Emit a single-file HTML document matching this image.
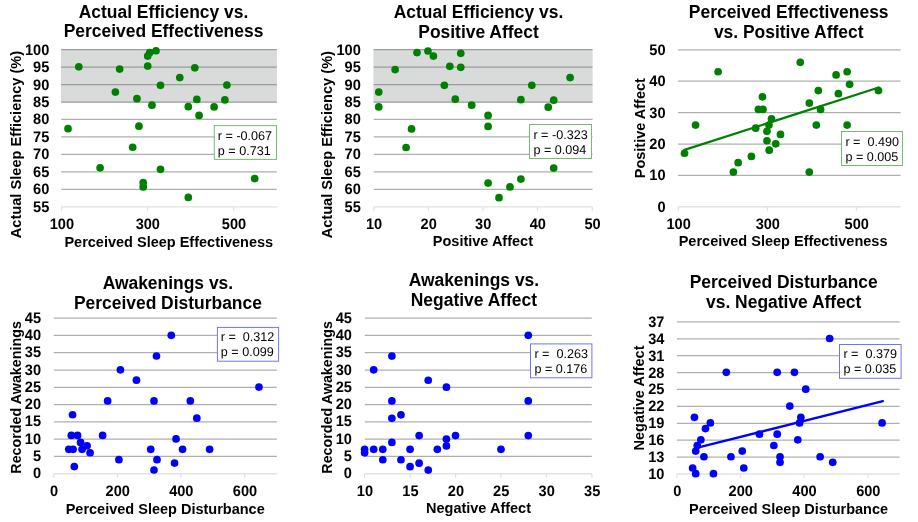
<!DOCTYPE html>
<html lang="en">
<head>
<meta charset="utf-8">
<title>Sleep measures vs. affect scatter plots</title>
<style>
html,body{margin:0;padding:0;background:#fff;}
body{width:918px;height:522px;overflow:hidden;}
svg{display:block;will-change:transform;}
svg text{font-family:'Liberation Sans', Arial, Helvetica, sans-serif;fill:#000;}
</style>
</head>
<body>
<svg width="918" height="522" viewBox="0 0 918 522">
<rect x="0" y="0" width="918" height="522" fill="#fff"/>
<rect x="60.90" y="49.10" width="216.00" height="53.60" fill="#d9dbda"/>
<line x1="61.20" x2="276.80" y1="49.60" y2="49.60" stroke="#525856" stroke-opacity="0.47" stroke-width="1.25"/>
<line x1="61.20" x2="276.80" y1="67.07" y2="67.07" stroke="#525856" stroke-opacity="0.47" stroke-width="1.25"/>
<line x1="61.20" x2="276.80" y1="84.54" y2="84.54" stroke="#525856" stroke-opacity="0.47" stroke-width="1.25"/>
<line x1="61.20" x2="276.80" y1="102.02" y2="102.02" stroke="#525856" stroke-opacity="0.47" stroke-width="1.25"/>
<line x1="61.20" x2="276.80" y1="119.49" y2="119.49" stroke="#525856" stroke-opacity="0.47" stroke-width="1.25"/>
<line x1="61.20" x2="276.80" y1="136.96" y2="136.96" stroke="#525856" stroke-opacity="0.47" stroke-width="1.25"/>
<line x1="61.20" x2="276.80" y1="154.43" y2="154.43" stroke="#525856" stroke-opacity="0.47" stroke-width="1.25"/>
<line x1="61.20" x2="276.80" y1="171.91" y2="171.91" stroke="#525856" stroke-opacity="0.47" stroke-width="1.25"/>
<line x1="61.20" x2="276.80" y1="189.38" y2="189.38" stroke="#525856" stroke-opacity="0.47" stroke-width="1.25"/>
<line x1="61.20" x2="276.80" y1="206.85" y2="206.85" stroke="#e2e2e2" stroke-width="1.4"/>
<line x1="61.60" x2="61.60" y1="206.85" y2="211.15" stroke="#e2e2e2" stroke-width="1.2"/>
<line x1="147.50" x2="147.50" y1="206.85" y2="211.15" stroke="#e2e2e2" stroke-width="1.2"/>
<line x1="233.70" x2="233.70" y1="206.85" y2="211.15" stroke="#e2e2e2" stroke-width="1.2"/>
<text transform="translate(49.30,54.60) scale(1,1.04)" text-anchor="end" font-size="14.6" font-weight="bold" text-rendering="geometricPrecision">100</text>
<text transform="translate(49.30,72.07) scale(1,1.04)" text-anchor="end" font-size="14.6" font-weight="bold" text-rendering="geometricPrecision">95</text>
<text transform="translate(49.30,89.54) scale(1,1.04)" text-anchor="end" font-size="14.6" font-weight="bold" text-rendering="geometricPrecision">90</text>
<text transform="translate(49.30,107.02) scale(1,1.04)" text-anchor="end" font-size="14.6" font-weight="bold" text-rendering="geometricPrecision">85</text>
<text transform="translate(49.30,124.49) scale(1,1.04)" text-anchor="end" font-size="14.6" font-weight="bold" text-rendering="geometricPrecision">80</text>
<text transform="translate(49.30,141.96) scale(1,1.04)" text-anchor="end" font-size="14.6" font-weight="bold" text-rendering="geometricPrecision">75</text>
<text transform="translate(49.30,159.43) scale(1,1.04)" text-anchor="end" font-size="14.6" font-weight="bold" text-rendering="geometricPrecision">70</text>
<text transform="translate(49.30,176.91) scale(1,1.04)" text-anchor="end" font-size="14.6" font-weight="bold" text-rendering="geometricPrecision">65</text>
<text transform="translate(49.30,194.38) scale(1,1.04)" text-anchor="end" font-size="14.6" font-weight="bold" text-rendering="geometricPrecision">60</text>
<text transform="translate(49.30,211.85) scale(1,1.04)" text-anchor="end" font-size="14.6" font-weight="bold" text-rendering="geometricPrecision">55</text>
<text transform="translate(61.90,229.00) scale(1,1.04)" text-anchor="middle" font-size="14.6" font-weight="bold" text-rendering="geometricPrecision">100</text>
<text transform="translate(147.80,229.00) scale(1,1.04)" text-anchor="middle" font-size="14.6" font-weight="bold" text-rendering="geometricPrecision">300</text>
<text transform="translate(234.00,229.00) scale(1,1.04)" text-anchor="middle" font-size="14.6" font-weight="bold" text-rendering="geometricPrecision">500</text>
<text x="168.80" y="247.00" text-anchor="middle" font-size="14.5" font-weight="bold">Perceived Sleep Effectiveness</text>
<text transform="translate(20.70,144.50) rotate(-90)" text-anchor="middle" font-size="14.6" font-weight="bold">Actual Sleep Efficiency (%)</text>
<text x="163.50" y="17.60" text-anchor="middle" font-size="17.45" font-weight="bold">Actual Efficiency vs.</text>
<text x="163.50" y="37.40" text-anchor="middle" font-size="17.45" font-weight="bold">Perceived Effectiveness</text>
<circle cx="78.80" cy="66.81" r="3.85" fill="#008000"/>
<circle cx="119.65" cy="69.07" r="3.85" fill="#008000"/>
<circle cx="147.71" cy="56.04" r="3.85" fill="#008000"/>
<circle cx="149.71" cy="52.53" r="3.85" fill="#008000"/>
<circle cx="155.98" cy="50.77" r="3.85" fill="#008000"/>
<circle cx="147.71" cy="66.06" r="3.85" fill="#008000"/>
<circle cx="194.81" cy="67.81" r="3.85" fill="#008000"/>
<circle cx="179.78" cy="77.58" r="3.85" fill="#008000"/>
<circle cx="160.49" cy="85.35" r="3.85" fill="#008000"/>
<circle cx="226.89" cy="85.10" r="3.85" fill="#008000"/>
<circle cx="115.39" cy="92.12" r="3.85" fill="#008000"/>
<circle cx="136.93" cy="98.63" r="3.85" fill="#008000"/>
<circle cx="151.97" cy="105.15" r="3.85" fill="#008000"/>
<circle cx="196.82" cy="99.38" r="3.85" fill="#008000"/>
<circle cx="224.88" cy="99.88" r="3.85" fill="#008000"/>
<circle cx="188.30" cy="106.65" r="3.85" fill="#008000"/>
<circle cx="214.11" cy="106.90" r="3.85" fill="#008000"/>
<circle cx="199.07" cy="115.42" r="3.85" fill="#008000"/>
<circle cx="68.03" cy="128.70" r="3.85" fill="#008000"/>
<circle cx="138.94" cy="126.19" r="3.85" fill="#008000"/>
<circle cx="132.67" cy="147.24" r="3.85" fill="#008000"/>
<circle cx="100.10" cy="167.84" r="3.85" fill="#008000"/>
<circle cx="160.49" cy="169.34" r="3.85" fill="#008000"/>
<circle cx="143.20" cy="182.62" r="3.85" fill="#008000"/>
<circle cx="143.20" cy="186.88" r="3.85" fill="#008000"/>
<circle cx="188.30" cy="197.40" r="3.85" fill="#008000"/>
<circle cx="254.70" cy="178.61" r="3.85" fill="#008000"/>
<rect x="214.30" y="125.60" width="62.20" height="33.80" fill="#fff" stroke="#74bc74" stroke-width="1"/>
<text x="217.85" y="139.65" font-size="12.6" fill="#303030" text-rendering="geometricPrecision" style="white-space:pre">r = -0.067</text>
<text x="217.85" y="154.50" font-size="12.6" fill="#303030" text-rendering="geometricPrecision" style="white-space:pre">p = 0.731</text>
<rect x="373.40" y="49.10" width="219.20" height="53.60" fill="#d9dbda"/>
<line x1="373.70" x2="592.50" y1="49.60" y2="49.60" stroke="#525856" stroke-opacity="0.47" stroke-width="1.25"/>
<line x1="373.70" x2="592.50" y1="67.07" y2="67.07" stroke="#525856" stroke-opacity="0.47" stroke-width="1.25"/>
<line x1="373.70" x2="592.50" y1="84.54" y2="84.54" stroke="#525856" stroke-opacity="0.47" stroke-width="1.25"/>
<line x1="373.70" x2="592.50" y1="102.02" y2="102.02" stroke="#525856" stroke-opacity="0.47" stroke-width="1.25"/>
<line x1="373.70" x2="592.50" y1="119.49" y2="119.49" stroke="#525856" stroke-opacity="0.47" stroke-width="1.25"/>
<line x1="373.70" x2="592.50" y1="136.96" y2="136.96" stroke="#525856" stroke-opacity="0.47" stroke-width="1.25"/>
<line x1="373.70" x2="592.50" y1="154.43" y2="154.43" stroke="#525856" stroke-opacity="0.47" stroke-width="1.25"/>
<line x1="373.70" x2="592.50" y1="171.91" y2="171.91" stroke="#525856" stroke-opacity="0.47" stroke-width="1.25"/>
<line x1="373.70" x2="592.50" y1="189.38" y2="189.38" stroke="#525856" stroke-opacity="0.47" stroke-width="1.25"/>
<line x1="373.70" x2="592.50" y1="206.85" y2="206.85" stroke="#e2e2e2" stroke-width="1.4"/>
<line x1="373.80" x2="373.80" y1="206.85" y2="211.15" stroke="#e2e2e2" stroke-width="1.2"/>
<line x1="428.40" x2="428.40" y1="206.85" y2="211.15" stroke="#e2e2e2" stroke-width="1.2"/>
<line x1="482.90" x2="482.90" y1="206.85" y2="211.15" stroke="#e2e2e2" stroke-width="1.2"/>
<line x1="537.50" x2="537.50" y1="206.85" y2="211.15" stroke="#e2e2e2" stroke-width="1.2"/>
<line x1="592.30" x2="592.30" y1="206.85" y2="211.15" stroke="#e2e2e2" stroke-width="1.2"/>
<text transform="translate(360.80,54.60) scale(1,1.04)" text-anchor="end" font-size="14.6" font-weight="bold" text-rendering="geometricPrecision">100</text>
<text transform="translate(360.80,72.07) scale(1,1.04)" text-anchor="end" font-size="14.6" font-weight="bold" text-rendering="geometricPrecision">95</text>
<text transform="translate(360.80,89.54) scale(1,1.04)" text-anchor="end" font-size="14.6" font-weight="bold" text-rendering="geometricPrecision">90</text>
<text transform="translate(360.80,107.02) scale(1,1.04)" text-anchor="end" font-size="14.6" font-weight="bold" text-rendering="geometricPrecision">85</text>
<text transform="translate(360.80,124.49) scale(1,1.04)" text-anchor="end" font-size="14.6" font-weight="bold" text-rendering="geometricPrecision">80</text>
<text transform="translate(360.80,141.96) scale(1,1.04)" text-anchor="end" font-size="14.6" font-weight="bold" text-rendering="geometricPrecision">75</text>
<text transform="translate(360.80,159.43) scale(1,1.04)" text-anchor="end" font-size="14.6" font-weight="bold" text-rendering="geometricPrecision">70</text>
<text transform="translate(360.80,176.91) scale(1,1.04)" text-anchor="end" font-size="14.6" font-weight="bold" text-rendering="geometricPrecision">65</text>
<text transform="translate(360.80,194.38) scale(1,1.04)" text-anchor="end" font-size="14.6" font-weight="bold" text-rendering="geometricPrecision">60</text>
<text transform="translate(360.80,211.85) scale(1,1.04)" text-anchor="end" font-size="14.6" font-weight="bold" text-rendering="geometricPrecision">55</text>
<text transform="translate(374.10,229.10) scale(1,1.04)" text-anchor="middle" font-size="14.6" font-weight="bold" text-rendering="geometricPrecision">10</text>
<text transform="translate(428.70,229.10) scale(1,1.04)" text-anchor="middle" font-size="14.6" font-weight="bold" text-rendering="geometricPrecision">20</text>
<text transform="translate(483.20,229.10) scale(1,1.04)" text-anchor="middle" font-size="14.6" font-weight="bold" text-rendering="geometricPrecision">30</text>
<text transform="translate(537.80,229.10) scale(1,1.04)" text-anchor="middle" font-size="14.6" font-weight="bold" text-rendering="geometricPrecision">40</text>
<text transform="translate(592.60,229.10) scale(1,1.04)" text-anchor="middle" font-size="14.6" font-weight="bold" text-rendering="geometricPrecision">50</text>
<text x="482.90" y="246.40" text-anchor="middle" font-size="14.5" font-weight="bold">Positive Affect</text>
<text transform="translate(332.00,144.70) rotate(-90)" text-anchor="middle" font-size="14.6" font-weight="bold">Actual Sleep Efficiency (%)</text>
<text x="478.50" y="17.50" text-anchor="middle" font-size="17.45" font-weight="bold">Actual Efficiency vs.</text>
<text x="478.50" y="37.60" text-anchor="middle" font-size="17.45" font-weight="bold">Positive Affect</text>
<circle cx="417.01" cy="52.53" r="3.85" fill="#008000"/>
<circle cx="427.94" cy="51.02" r="3.85" fill="#008000"/>
<circle cx="433.41" cy="56.04" r="3.85" fill="#008000"/>
<circle cx="460.75" cy="53.28" r="3.85" fill="#008000"/>
<circle cx="395.14" cy="69.57" r="3.85" fill="#008000"/>
<circle cx="449.81" cy="66.31" r="3.85" fill="#008000"/>
<circle cx="460.75" cy="67.31" r="3.85" fill="#008000"/>
<circle cx="444.35" cy="85.35" r="3.85" fill="#008000"/>
<circle cx="378.74" cy="92.12" r="3.85" fill="#008000"/>
<circle cx="378.74" cy="106.90" r="3.85" fill="#008000"/>
<circle cx="455.28" cy="99.13" r="3.85" fill="#008000"/>
<circle cx="471.68" cy="105.15" r="3.85" fill="#008000"/>
<circle cx="488.08" cy="115.42" r="3.85" fill="#008000"/>
<circle cx="488.08" cy="126.44" r="3.85" fill="#008000"/>
<circle cx="520.89" cy="99.63" r="3.85" fill="#008000"/>
<circle cx="531.82" cy="85.35" r="3.85" fill="#008000"/>
<circle cx="570.09" cy="77.58" r="3.85" fill="#008000"/>
<circle cx="553.69" cy="100.14" r="3.85" fill="#008000"/>
<circle cx="548.23" cy="107.15" r="3.85" fill="#008000"/>
<circle cx="411.54" cy="128.95" r="3.85" fill="#008000"/>
<circle cx="406.07" cy="147.49" r="3.85" fill="#008000"/>
<circle cx="553.69" cy="168.09" r="3.85" fill="#008000"/>
<circle cx="488.08" cy="183.12" r="3.85" fill="#008000"/>
<circle cx="520.89" cy="179.11" r="3.85" fill="#008000"/>
<circle cx="509.95" cy="186.88" r="3.85" fill="#008000"/>
<circle cx="499.02" cy="197.65" r="3.85" fill="#008000"/>
<rect x="529.50" y="124.50" width="62.00" height="34.00" fill="#fff" stroke="#74bc74" stroke-width="1"/>
<text x="533.40" y="138.90" font-size="12.6" fill="#303030" text-rendering="geometricPrecision" style="white-space:pre">r = -0.323</text>
<text x="533.40" y="153.70" font-size="12.6" fill="#303030" text-rendering="geometricPrecision" style="white-space:pre">p = 0.094</text>
<line x1="678.00" x2="900.50" y1="49.85" y2="49.85" stroke="#525856" stroke-opacity="0.47" stroke-width="1.25"/>
<line x1="678.00" x2="900.50" y1="81.24" y2="81.24" stroke="#525856" stroke-opacity="0.47" stroke-width="1.25"/>
<line x1="678.00" x2="900.50" y1="112.63" y2="112.63" stroke="#525856" stroke-opacity="0.47" stroke-width="1.25"/>
<line x1="678.00" x2="900.50" y1="144.02" y2="144.02" stroke="#525856" stroke-opacity="0.47" stroke-width="1.25"/>
<line x1="678.00" x2="900.50" y1="175.41" y2="175.41" stroke="#525856" stroke-opacity="0.47" stroke-width="1.25"/>
<line x1="678.00" x2="900.50" y1="206.80" y2="206.80" stroke="#e2e2e2" stroke-width="1.4"/>
<line x1="678.30" x2="678.30" y1="206.80" y2="211.10" stroke="#e2e2e2" stroke-width="1.2"/>
<line x1="767.50" x2="767.50" y1="206.80" y2="211.10" stroke="#e2e2e2" stroke-width="1.2"/>
<line x1="856.40" x2="856.40" y1="206.80" y2="211.10" stroke="#e2e2e2" stroke-width="1.2"/>
<text transform="translate(665.60,54.85) scale(1,1.04)" text-anchor="end" font-size="14.6" font-weight="bold" text-rendering="geometricPrecision">50</text>
<text transform="translate(665.60,86.24) scale(1,1.04)" text-anchor="end" font-size="14.6" font-weight="bold" text-rendering="geometricPrecision">40</text>
<text transform="translate(665.60,117.63) scale(1,1.04)" text-anchor="end" font-size="14.6" font-weight="bold" text-rendering="geometricPrecision">30</text>
<text transform="translate(665.60,149.02) scale(1,1.04)" text-anchor="end" font-size="14.6" font-weight="bold" text-rendering="geometricPrecision">20</text>
<text transform="translate(665.60,180.41) scale(1,1.04)" text-anchor="end" font-size="14.6" font-weight="bold" text-rendering="geometricPrecision">10</text>
<text transform="translate(665.60,211.80) scale(1,1.04)" text-anchor="end" font-size="14.6" font-weight="bold" text-rendering="geometricPrecision">0</text>
<text transform="translate(678.60,229.00) scale(1,1.04)" text-anchor="middle" font-size="14.6" font-weight="bold" text-rendering="geometricPrecision">100</text>
<text transform="translate(767.80,229.00) scale(1,1.04)" text-anchor="middle" font-size="14.6" font-weight="bold" text-rendering="geometricPrecision">300</text>
<text transform="translate(856.70,229.00) scale(1,1.04)" text-anchor="middle" font-size="14.6" font-weight="bold" text-rendering="geometricPrecision">500</text>
<text x="783.10" y="246.20" text-anchor="middle" font-size="14.5" font-weight="bold">Perceived Sleep Effectiveness</text>
<text transform="translate(645.20,128.20) rotate(-90)" text-anchor="middle" font-size="14.5" font-weight="bold">Positive Affect</text>
<text x="788.70" y="17.50" text-anchor="middle" font-size="17.45" font-weight="bold">Perceived Effectiveness</text>
<text x="788.70" y="37.60" text-anchor="middle" font-size="17.45" font-weight="bold">vs. Positive Affect</text>
<line x1="684.50" y1="149.90" x2="878.70" y2="87.50" stroke="#008000" stroke-width="2.3" stroke-linecap="round"/>
<circle cx="800.28" cy="62.36" r="3.85" fill="#008000"/>
<circle cx="718.10" cy="71.76" r="3.85" fill="#008000"/>
<circle cx="847.14" cy="71.76" r="3.85" fill="#008000"/>
<circle cx="836.11" cy="74.90" r="3.85" fill="#008000"/>
<circle cx="849.64" cy="84.30" r="3.85" fill="#008000"/>
<circle cx="878.46" cy="90.57" r="3.85" fill="#008000"/>
<circle cx="818.32" cy="90.57" r="3.85" fill="#008000"/>
<circle cx="838.37" cy="93.71" r="3.85" fill="#008000"/>
<circle cx="762.45" cy="96.84" r="3.85" fill="#008000"/>
<circle cx="809.30" cy="103.11" r="3.85" fill="#008000"/>
<circle cx="758.44" cy="109.38" r="3.85" fill="#008000"/>
<circle cx="762.95" cy="109.38" r="3.85" fill="#008000"/>
<circle cx="820.58" cy="109.38" r="3.85" fill="#008000"/>
<circle cx="771.47" cy="118.78" r="3.85" fill="#008000"/>
<circle cx="695.55" cy="125.05" r="3.85" fill="#008000"/>
<circle cx="768.96" cy="125.05" r="3.85" fill="#008000"/>
<circle cx="755.68" cy="128.19" r="3.85" fill="#008000"/>
<circle cx="816.32" cy="125.05" r="3.85" fill="#008000"/>
<circle cx="847.14" cy="125.05" r="3.85" fill="#008000"/>
<circle cx="766.96" cy="131.32" r="3.85" fill="#008000"/>
<circle cx="780.49" cy="134.46" r="3.85" fill="#008000"/>
<circle cx="766.96" cy="140.73" r="3.85" fill="#008000"/>
<circle cx="775.73" cy="143.86" r="3.85" fill="#008000"/>
<circle cx="769.21" cy="150.13" r="3.85" fill="#008000"/>
<circle cx="684.52" cy="153.27" r="3.85" fill="#008000"/>
<circle cx="751.42" cy="156.40" r="3.85" fill="#008000"/>
<circle cx="738.14" cy="162.67" r="3.85" fill="#008000"/>
<circle cx="733.38" cy="172.08" r="3.85" fill="#008000"/>
<circle cx="809.30" cy="172.08" r="3.85" fill="#008000"/>
<rect x="841.50" y="131.50" width="61.00" height="34.00" fill="#fff" stroke="#74bc74" stroke-width="1"/>
<text x="845.40" y="145.80" font-size="12.6" fill="#303030" text-rendering="geometricPrecision" style="white-space:pre">r =  0.490</text>
<text x="845.40" y="160.50" font-size="12.6" fill="#303030" text-rendering="geometricPrecision" style="white-space:pre">p = 0.005</text>
<line x1="53.80" x2="276.80" y1="318.17" y2="318.17" stroke="#525856" stroke-opacity="0.47" stroke-width="1.25"/>
<line x1="53.80" x2="276.80" y1="335.45" y2="335.45" stroke="#525856" stroke-opacity="0.47" stroke-width="1.25"/>
<line x1="53.80" x2="276.80" y1="352.73" y2="352.73" stroke="#525856" stroke-opacity="0.47" stroke-width="1.25"/>
<line x1="53.80" x2="276.80" y1="370.01" y2="370.01" stroke="#525856" stroke-opacity="0.47" stroke-width="1.25"/>
<line x1="53.80" x2="276.80" y1="387.29" y2="387.29" stroke="#525856" stroke-opacity="0.47" stroke-width="1.25"/>
<line x1="53.80" x2="276.80" y1="404.58" y2="404.58" stroke="#525856" stroke-opacity="0.47" stroke-width="1.25"/>
<line x1="53.80" x2="276.80" y1="421.86" y2="421.86" stroke="#525856" stroke-opacity="0.47" stroke-width="1.25"/>
<line x1="53.80" x2="276.80" y1="439.14" y2="439.14" stroke="#525856" stroke-opacity="0.47" stroke-width="1.25"/>
<line x1="53.80" x2="276.80" y1="456.42" y2="456.42" stroke="#525856" stroke-opacity="0.47" stroke-width="1.25"/>
<line x1="53.80" x2="276.80" y1="473.70" y2="473.70" stroke="#e2e2e2" stroke-width="1.4"/>
<line x1="53.80" x2="53.80" y1="473.70" y2="478.00" stroke="#e2e2e2" stroke-width="1.2"/>
<line x1="117.40" x2="117.40" y1="473.70" y2="478.00" stroke="#e2e2e2" stroke-width="1.2"/>
<line x1="181.00" x2="181.00" y1="473.70" y2="478.00" stroke="#e2e2e2" stroke-width="1.2"/>
<line x1="244.70" x2="244.70" y1="473.70" y2="478.00" stroke="#e2e2e2" stroke-width="1.2"/>
<text transform="translate(41.00,322.77) scale(1,1.04)" text-anchor="end" font-size="14.6" font-weight="bold" text-rendering="geometricPrecision">45</text>
<text transform="translate(41.00,340.05) scale(1,1.04)" text-anchor="end" font-size="14.6" font-weight="bold" text-rendering="geometricPrecision">40</text>
<text transform="translate(41.00,357.33) scale(1,1.04)" text-anchor="end" font-size="14.6" font-weight="bold" text-rendering="geometricPrecision">35</text>
<text transform="translate(41.00,374.61) scale(1,1.04)" text-anchor="end" font-size="14.6" font-weight="bold" text-rendering="geometricPrecision">30</text>
<text transform="translate(41.00,391.89) scale(1,1.04)" text-anchor="end" font-size="14.6" font-weight="bold" text-rendering="geometricPrecision">25</text>
<text transform="translate(41.00,409.18) scale(1,1.04)" text-anchor="end" font-size="14.6" font-weight="bold" text-rendering="geometricPrecision">20</text>
<text transform="translate(41.00,426.46) scale(1,1.04)" text-anchor="end" font-size="14.6" font-weight="bold" text-rendering="geometricPrecision">15</text>
<text transform="translate(41.00,443.74) scale(1,1.04)" text-anchor="end" font-size="14.6" font-weight="bold" text-rendering="geometricPrecision">10</text>
<text transform="translate(41.00,461.02) scale(1,1.04)" text-anchor="end" font-size="14.6" font-weight="bold" text-rendering="geometricPrecision">5</text>
<text transform="translate(41.00,478.30) scale(1,1.04)" text-anchor="end" font-size="14.6" font-weight="bold" text-rendering="geometricPrecision">0</text>
<text transform="translate(54.10,495.90) scale(1,1.04)" text-anchor="middle" font-size="14.6" font-weight="bold" text-rendering="geometricPrecision">0</text>
<text transform="translate(117.70,495.90) scale(1,1.04)" text-anchor="middle" font-size="14.6" font-weight="bold" text-rendering="geometricPrecision">200</text>
<text transform="translate(181.30,495.90) scale(1,1.04)" text-anchor="middle" font-size="14.6" font-weight="bold" text-rendering="geometricPrecision">400</text>
<text transform="translate(245.00,495.90) scale(1,1.04)" text-anchor="middle" font-size="14.6" font-weight="bold" text-rendering="geometricPrecision">600</text>
<text x="165.20" y="514.00" text-anchor="middle" font-size="14.5" font-weight="bold">Perceived Sleep Disturbance</text>
<text transform="translate(20.70,397.40) rotate(-90)" text-anchor="middle" font-size="14.3" font-weight="bold">Recorded Awakenings</text>
<text x="167.90" y="289.30" text-anchor="middle" font-size="17.45" font-weight="bold">Awakenings vs.</text>
<text x="167.90" y="309.30" text-anchor="middle" font-size="17.45" font-weight="bold">Perceived Disturbance</text>
<circle cx="171.27" cy="335.29" r="3.85" fill="#0000ff"/>
<circle cx="156.49" cy="356.01" r="3.85" fill="#0000ff"/>
<circle cx="120.41" cy="369.83" r="3.85" fill="#0000ff"/>
<circle cx="136.44" cy="380.20" r="3.85" fill="#0000ff"/>
<circle cx="258.97" cy="387.11" r="3.85" fill="#0000ff"/>
<circle cx="107.63" cy="400.92" r="3.85" fill="#0000ff"/>
<circle cx="153.98" cy="400.92" r="3.85" fill="#0000ff"/>
<circle cx="190.32" cy="400.92" r="3.85" fill="#0000ff"/>
<circle cx="72.55" cy="414.74" r="3.85" fill="#0000ff"/>
<circle cx="196.83" cy="418.20" r="3.85" fill="#0000ff"/>
<circle cx="71.30" cy="435.47" r="3.85" fill="#0000ff"/>
<circle cx="77.56" cy="435.47" r="3.85" fill="#0000ff"/>
<circle cx="102.62" cy="435.47" r="3.85" fill="#0000ff"/>
<circle cx="176.03" cy="438.93" r="3.85" fill="#0000ff"/>
<circle cx="80.57" cy="442.38" r="3.85" fill="#0000ff"/>
<circle cx="87.08" cy="445.84" r="3.85" fill="#0000ff"/>
<circle cx="68.79" cy="449.29" r="3.85" fill="#0000ff"/>
<circle cx="73.05" cy="449.29" r="3.85" fill="#0000ff"/>
<circle cx="82.07" cy="449.29" r="3.85" fill="#0000ff"/>
<circle cx="90.09" cy="452.74" r="3.85" fill="#0000ff"/>
<circle cx="150.73" cy="449.29" r="3.85" fill="#0000ff"/>
<circle cx="182.55" cy="449.29" r="3.85" fill="#0000ff"/>
<circle cx="209.61" cy="449.29" r="3.85" fill="#0000ff"/>
<circle cx="118.91" cy="459.65" r="3.85" fill="#0000ff"/>
<circle cx="156.99" cy="459.65" r="3.85" fill="#0000ff"/>
<circle cx="174.53" cy="463.11" r="3.85" fill="#0000ff"/>
<circle cx="74.30" cy="466.56" r="3.85" fill="#0000ff"/>
<circle cx="153.98" cy="470.02" r="3.85" fill="#0000ff"/>
<rect x="217.40" y="327.40" width="61.20" height="33.80" fill="#fff" stroke="#7474ea" stroke-width="1"/>
<text x="220.80" y="341.30" font-size="12.6" fill="#303030" text-rendering="geometricPrecision" style="white-space:pre">r =  0.312</text>
<text x="220.80" y="356.20" font-size="12.6" fill="#303030" text-rendering="geometricPrecision" style="white-space:pre">p = 0.099</text>
<line x1="364.80" x2="591.80" y1="318.17" y2="318.17" stroke="#525856" stroke-opacity="0.47" stroke-width="1.25"/>
<line x1="364.80" x2="591.80" y1="335.45" y2="335.45" stroke="#525856" stroke-opacity="0.47" stroke-width="1.25"/>
<line x1="364.80" x2="591.80" y1="352.73" y2="352.73" stroke="#525856" stroke-opacity="0.47" stroke-width="1.25"/>
<line x1="364.80" x2="591.80" y1="370.01" y2="370.01" stroke="#525856" stroke-opacity="0.47" stroke-width="1.25"/>
<line x1="364.80" x2="591.80" y1="387.29" y2="387.29" stroke="#525856" stroke-opacity="0.47" stroke-width="1.25"/>
<line x1="364.80" x2="591.80" y1="404.58" y2="404.58" stroke="#525856" stroke-opacity="0.47" stroke-width="1.25"/>
<line x1="364.80" x2="591.80" y1="421.86" y2="421.86" stroke="#525856" stroke-opacity="0.47" stroke-width="1.25"/>
<line x1="364.80" x2="591.80" y1="439.14" y2="439.14" stroke="#525856" stroke-opacity="0.47" stroke-width="1.25"/>
<line x1="364.80" x2="591.80" y1="456.42" y2="456.42" stroke="#525856" stroke-opacity="0.47" stroke-width="1.25"/>
<line x1="364.80" x2="591.80" y1="473.70" y2="473.70" stroke="#e2e2e2" stroke-width="1.4"/>
<line x1="364.60" x2="364.60" y1="473.70" y2="478.00" stroke="#e2e2e2" stroke-width="1.2"/>
<line x1="410.10" x2="410.10" y1="473.70" y2="478.00" stroke="#e2e2e2" stroke-width="1.2"/>
<line x1="455.60" x2="455.60" y1="473.70" y2="478.00" stroke="#e2e2e2" stroke-width="1.2"/>
<line x1="500.90" x2="500.90" y1="473.70" y2="478.00" stroke="#e2e2e2" stroke-width="1.2"/>
<line x1="546.40" x2="546.40" y1="473.70" y2="478.00" stroke="#e2e2e2" stroke-width="1.2"/>
<line x1="591.90" x2="591.90" y1="473.70" y2="478.00" stroke="#e2e2e2" stroke-width="1.2"/>
<text transform="translate(351.90,322.77) scale(1,1.04)" text-anchor="end" font-size="14.6" font-weight="bold" text-rendering="geometricPrecision">45</text>
<text transform="translate(351.90,340.05) scale(1,1.04)" text-anchor="end" font-size="14.6" font-weight="bold" text-rendering="geometricPrecision">40</text>
<text transform="translate(351.90,357.33) scale(1,1.04)" text-anchor="end" font-size="14.6" font-weight="bold" text-rendering="geometricPrecision">35</text>
<text transform="translate(351.90,374.61) scale(1,1.04)" text-anchor="end" font-size="14.6" font-weight="bold" text-rendering="geometricPrecision">30</text>
<text transform="translate(351.90,391.89) scale(1,1.04)" text-anchor="end" font-size="14.6" font-weight="bold" text-rendering="geometricPrecision">25</text>
<text transform="translate(351.90,409.18) scale(1,1.04)" text-anchor="end" font-size="14.6" font-weight="bold" text-rendering="geometricPrecision">20</text>
<text transform="translate(351.90,426.46) scale(1,1.04)" text-anchor="end" font-size="14.6" font-weight="bold" text-rendering="geometricPrecision">15</text>
<text transform="translate(351.90,443.74) scale(1,1.04)" text-anchor="end" font-size="14.6" font-weight="bold" text-rendering="geometricPrecision">10</text>
<text transform="translate(351.90,461.02) scale(1,1.04)" text-anchor="end" font-size="14.6" font-weight="bold" text-rendering="geometricPrecision">5</text>
<text transform="translate(351.90,478.30) scale(1,1.04)" text-anchor="end" font-size="14.6" font-weight="bold" text-rendering="geometricPrecision">0</text>
<text transform="translate(364.90,495.80) scale(1,1.04)" text-anchor="middle" font-size="14.6" font-weight="bold" text-rendering="geometricPrecision">10</text>
<text transform="translate(410.40,495.80) scale(1,1.04)" text-anchor="middle" font-size="14.6" font-weight="bold" text-rendering="geometricPrecision">15</text>
<text transform="translate(455.90,495.80) scale(1,1.04)" text-anchor="middle" font-size="14.6" font-weight="bold" text-rendering="geometricPrecision">20</text>
<text transform="translate(501.20,495.80) scale(1,1.04)" text-anchor="middle" font-size="14.6" font-weight="bold" text-rendering="geometricPrecision">25</text>
<text transform="translate(546.70,495.80) scale(1,1.04)" text-anchor="middle" font-size="14.6" font-weight="bold" text-rendering="geometricPrecision">30</text>
<text transform="translate(592.20,495.80) scale(1,1.04)" text-anchor="middle" font-size="14.6" font-weight="bold" text-rendering="geometricPrecision">35</text>
<text x="478.50" y="513.30" text-anchor="middle" font-size="14.5" font-weight="bold">Negative Affect</text>
<text transform="translate(331.80,397.40) rotate(-90)" text-anchor="middle" font-size="14.3" font-weight="bold">Recorded Awakenings</text>
<text x="473.90" y="286.30" text-anchor="middle" font-size="17.45" font-weight="bold">Awakenings vs.</text>
<text x="473.90" y="306.30" text-anchor="middle" font-size="17.45" font-weight="bold">Negative Affect</text>
<circle cx="528.26" cy="335.30" r="3.85" fill="#0000ff"/>
<circle cx="391.88" cy="356.04" r="3.85" fill="#0000ff"/>
<circle cx="373.69" cy="369.86" r="3.85" fill="#0000ff"/>
<circle cx="428.24" cy="380.23" r="3.85" fill="#0000ff"/>
<circle cx="446.43" cy="387.14" r="3.85" fill="#0000ff"/>
<circle cx="391.88" cy="400.97" r="3.85" fill="#0000ff"/>
<circle cx="528.26" cy="400.97" r="3.85" fill="#0000ff"/>
<circle cx="400.97" cy="414.79" r="3.85" fill="#0000ff"/>
<circle cx="391.88" cy="418.25" r="3.85" fill="#0000ff"/>
<circle cx="419.15" cy="435.53" r="3.85" fill="#0000ff"/>
<circle cx="455.52" cy="435.53" r="3.85" fill="#0000ff"/>
<circle cx="528.26" cy="435.53" r="3.85" fill="#0000ff"/>
<circle cx="446.43" cy="438.99" r="3.85" fill="#0000ff"/>
<circle cx="391.88" cy="442.44" r="3.85" fill="#0000ff"/>
<circle cx="446.43" cy="445.90" r="3.85" fill="#0000ff"/>
<circle cx="364.60" cy="449.36" r="3.85" fill="#0000ff"/>
<circle cx="364.60" cy="452.81" r="3.85" fill="#0000ff"/>
<circle cx="373.69" cy="449.36" r="3.85" fill="#0000ff"/>
<circle cx="382.78" cy="449.36" r="3.85" fill="#0000ff"/>
<circle cx="410.06" cy="449.36" r="3.85" fill="#0000ff"/>
<circle cx="437.34" cy="449.36" r="3.85" fill="#0000ff"/>
<circle cx="500.98" cy="449.36" r="3.85" fill="#0000ff"/>
<circle cx="382.78" cy="459.73" r="3.85" fill="#0000ff"/>
<circle cx="400.97" cy="459.73" r="3.85" fill="#0000ff"/>
<circle cx="410.06" cy="466.64" r="3.85" fill="#0000ff"/>
<circle cx="419.15" cy="463.18" r="3.85" fill="#0000ff"/>
<circle cx="428.24" cy="470.09" r="3.85" fill="#0000ff"/>
<rect x="530.50" y="343.90" width="61.40" height="33.90" fill="#fff" stroke="#7474ea" stroke-width="1"/>
<text x="534.40" y="358.00" font-size="12.6" fill="#303030" text-rendering="geometricPrecision" style="white-space:pre">r =  0.263</text>
<text x="534.40" y="372.90" font-size="12.6" fill="#303030" text-rendering="geometricPrecision" style="white-space:pre">p = 0.176</text>
<line x1="676.90" x2="899.60" y1="321.85" y2="321.85" stroke="#525856" stroke-opacity="0.47" stroke-width="1.25"/>
<line x1="676.90" x2="899.60" y1="338.76" y2="338.76" stroke="#525856" stroke-opacity="0.47" stroke-width="1.25"/>
<line x1="676.90" x2="899.60" y1="355.66" y2="355.66" stroke="#525856" stroke-opacity="0.47" stroke-width="1.25"/>
<line x1="676.90" x2="899.60" y1="372.57" y2="372.57" stroke="#525856" stroke-opacity="0.47" stroke-width="1.25"/>
<line x1="676.90" x2="899.60" y1="389.47" y2="389.47" stroke="#525856" stroke-opacity="0.47" stroke-width="1.25"/>
<line x1="676.90" x2="899.60" y1="406.38" y2="406.38" stroke="#525856" stroke-opacity="0.47" stroke-width="1.25"/>
<line x1="676.90" x2="899.60" y1="423.28" y2="423.28" stroke="#525856" stroke-opacity="0.47" stroke-width="1.25"/>
<line x1="676.90" x2="899.60" y1="440.19" y2="440.19" stroke="#525856" stroke-opacity="0.47" stroke-width="1.25"/>
<line x1="676.90" x2="899.60" y1="457.09" y2="457.09" stroke="#525856" stroke-opacity="0.47" stroke-width="1.25"/>
<line x1="676.90" x2="899.60" y1="474.00" y2="474.00" stroke="#e2e2e2" stroke-width="1.4"/>
<line x1="676.90" x2="676.90" y1="474.00" y2="478.30" stroke="#e2e2e2" stroke-width="1.2"/>
<line x1="740.40" x2="740.40" y1="474.00" y2="478.30" stroke="#e2e2e2" stroke-width="1.2"/>
<line x1="804.20" x2="804.20" y1="474.00" y2="478.30" stroke="#e2e2e2" stroke-width="1.2"/>
<line x1="868.00" x2="868.00" y1="474.00" y2="478.30" stroke="#e2e2e2" stroke-width="1.2"/>
<text transform="translate(664.40,326.85) scale(1,1.04)" text-anchor="end" font-size="14.6" font-weight="bold" text-rendering="geometricPrecision">37</text>
<text transform="translate(664.40,343.76) scale(1,1.04)" text-anchor="end" font-size="14.6" font-weight="bold" text-rendering="geometricPrecision">34</text>
<text transform="translate(664.40,360.66) scale(1,1.04)" text-anchor="end" font-size="14.6" font-weight="bold" text-rendering="geometricPrecision">31</text>
<text transform="translate(664.40,377.57) scale(1,1.04)" text-anchor="end" font-size="14.6" font-weight="bold" text-rendering="geometricPrecision">28</text>
<text transform="translate(664.40,394.47) scale(1,1.04)" text-anchor="end" font-size="14.6" font-weight="bold" text-rendering="geometricPrecision">25</text>
<text transform="translate(664.40,411.38) scale(1,1.04)" text-anchor="end" font-size="14.6" font-weight="bold" text-rendering="geometricPrecision">22</text>
<text transform="translate(664.40,428.28) scale(1,1.04)" text-anchor="end" font-size="14.6" font-weight="bold" text-rendering="geometricPrecision">19</text>
<text transform="translate(664.40,445.19) scale(1,1.04)" text-anchor="end" font-size="14.6" font-weight="bold" text-rendering="geometricPrecision">16</text>
<text transform="translate(664.40,462.09) scale(1,1.04)" text-anchor="end" font-size="14.6" font-weight="bold" text-rendering="geometricPrecision">13</text>
<text transform="translate(664.40,479.00) scale(1,1.04)" text-anchor="end" font-size="14.6" font-weight="bold" text-rendering="geometricPrecision">10</text>
<text transform="translate(677.20,496.10) scale(1,1.04)" text-anchor="middle" font-size="14.6" font-weight="bold" text-rendering="geometricPrecision">0</text>
<text transform="translate(740.70,496.10) scale(1,1.04)" text-anchor="middle" font-size="14.6" font-weight="bold" text-rendering="geometricPrecision">200</text>
<text transform="translate(804.50,496.10) scale(1,1.04)" text-anchor="middle" font-size="14.6" font-weight="bold" text-rendering="geometricPrecision">400</text>
<text transform="translate(868.30,496.10) scale(1,1.04)" text-anchor="middle" font-size="14.6" font-weight="bold" text-rendering="geometricPrecision">600</text>
<text x="788.60" y="513.70" text-anchor="middle" font-size="14.5" font-weight="bold">Perceived Sleep Disturbance</text>
<text transform="translate(644.30,398.00) rotate(-90)" text-anchor="middle" font-size="14.5" font-weight="bold">Negative Affect</text>
<text x="783.70" y="288.30" text-anchor="middle" font-size="17.45" font-weight="bold">Perceived Disturbance</text>
<text x="783.70" y="308.30" text-anchor="middle" font-size="17.45" font-weight="bold">vs. Negative Affect</text>
<line x1="695.70" y1="448.10" x2="882.90" y2="401.20" stroke="#0000ff" stroke-width="2.3" stroke-linecap="round"/>
<circle cx="829.65" cy="338.50" r="3.85" fill="#0000ff"/>
<circle cx="726.30" cy="372.28" r="3.85" fill="#0000ff"/>
<circle cx="777.20" cy="372.28" r="3.85" fill="#0000ff"/>
<circle cx="794.43" cy="372.28" r="3.85" fill="#0000ff"/>
<circle cx="805.74" cy="389.17" r="3.85" fill="#0000ff"/>
<circle cx="789.80" cy="406.06" r="3.85" fill="#0000ff"/>
<circle cx="694.42" cy="417.32" r="3.85" fill="#0000ff"/>
<circle cx="800.85" cy="417.32" r="3.85" fill="#0000ff"/>
<circle cx="710.36" cy="422.95" r="3.85" fill="#0000ff"/>
<circle cx="799.57" cy="422.95" r="3.85" fill="#0000ff"/>
<circle cx="882.09" cy="422.95" r="3.85" fill="#0000ff"/>
<circle cx="705.48" cy="428.58" r="3.85" fill="#0000ff"/>
<circle cx="759.46" cy="434.22" r="3.85" fill="#0000ff"/>
<circle cx="777.20" cy="434.22" r="3.85" fill="#0000ff"/>
<circle cx="700.85" cy="439.85" r="3.85" fill="#0000ff"/>
<circle cx="797.77" cy="439.85" r="3.85" fill="#0000ff"/>
<circle cx="697.25" cy="445.48" r="3.85" fill="#0000ff"/>
<circle cx="773.86" cy="445.48" r="3.85" fill="#0000ff"/>
<circle cx="695.71" cy="451.11" r="3.85" fill="#0000ff"/>
<circle cx="742.24" cy="451.11" r="3.85" fill="#0000ff"/>
<circle cx="703.93" cy="456.74" r="3.85" fill="#0000ff"/>
<circle cx="730.93" cy="456.74" r="3.85" fill="#0000ff"/>
<circle cx="780.03" cy="456.74" r="3.85" fill="#0000ff"/>
<circle cx="820.14" cy="456.74" r="3.85" fill="#0000ff"/>
<circle cx="780.03" cy="462.37" r="3.85" fill="#0000ff"/>
<circle cx="832.73" cy="462.37" r="3.85" fill="#0000ff"/>
<circle cx="743.78" cy="468.00" r="3.85" fill="#0000ff"/>
<circle cx="692.62" cy="468.00" r="3.85" fill="#0000ff"/>
<circle cx="695.71" cy="473.63" r="3.85" fill="#0000ff"/>
<circle cx="713.45" cy="473.63" r="3.85" fill="#0000ff"/>
<rect x="839.50" y="344.50" width="61.60" height="33.80" fill="#fff" stroke="#7474ea" stroke-width="1"/>
<text x="843.40" y="358.40" font-size="12.6" fill="#303030" text-rendering="geometricPrecision" style="white-space:pre">r =  0.379</text>
<text x="843.40" y="373.30" font-size="12.6" fill="#303030" text-rendering="geometricPrecision" style="white-space:pre">p = 0.035</text>
</svg>
</body>
</html>
